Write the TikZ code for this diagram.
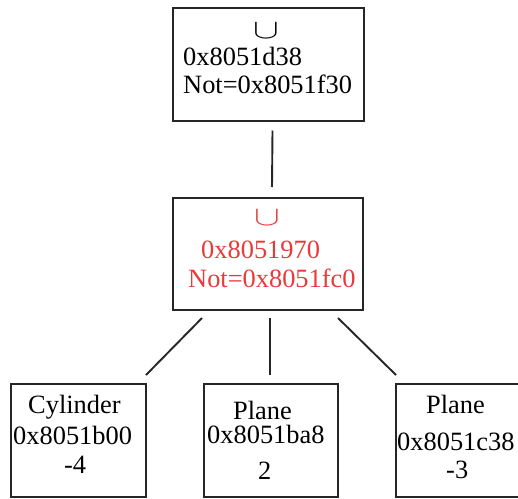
\documentclass[tikz,border=0pt]{standalone}
\usepackage{fontspec}
\setmainfont{Liberation Serif}
\definecolor{nodered}{RGB}{232,58,58}
\newcommand{\bigcupsym}{\scalebox{1.55}[1.1]{$\cup$}}
\begin{document}
\begin{tikzpicture}[x=1pt,y=-1pt,
  box/.style={draw=black!85,line width=2pt,rectangle,inner sep=0pt,anchor=north west},
  lbl/.style={inner sep=0pt,anchor=base west,font=\fontsize{26.4}{30}\selectfont},
  cupsym/.style={inner sep=0pt,anchor=south,font=\fontsize{24}{28}\selectfont},
  link/.style={draw=black!85,line width=1.9pt}]
\useasboundingbox (0,0) rectangle (518,498);
% boxes
\node[box,minimum width=191pt,minimum height=113pt] (top) at (172,6.5) {};
\node[box,minimum width=190pt,minimum height=112pt] (mid) at (172,197) {};
\node[box,minimum width=135pt,minimum height=113pt] (lb) at (10,383) {};
\node[box,minimum width=134pt,minimum height=113pt] (cb) at (203,383) {};
\node[box,minimum width=140pt,minimum height=113pt] (rb) at (395,383) {};
% texts top
\node[cupsym] (tcup) at (266,39) {\bigcupsym};
\node[lbl] (t1) at (183,65) {0x8051d38};
\node[lbl] (t2) at (183,93) {Not=0x8051f30};
% texts mid
\node[cupsym,text=nodered] (mcup) at (267,226) {\bigcupsym};
\node[lbl,text=nodered] (m1) at (201,258) {0x8051970};
\node[lbl,text=nodered] (m2) at (188,287) {Not=0x8051fc0};
% bottom left
\node[lbl] (l1) at (28,413) {Cylinder};
\node[lbl] (l2) at (13,444) {0x8051b00};
\node[lbl] (l3) at (64,473) {-4};
% bottom centre
\node[lbl] (c1) at (233,419) {Plane};
\node[lbl] (c2) at (207,443) {0x8051ba8};
\node[lbl] (c3) at (258,479) {2};
% bottom right
\node[lbl] (r1) at (426,413) {Plane};
\node[lbl] (r2) at (397,450) {0x8051c38};
\node[lbl] (r3) at (446,478) {-3};
% connectors
\draw[link] ([xshift=4pt,yshift=-9pt]top.south) -- ([xshift=4pt,yshift=10pt]mid.north);
\draw[link] ([xshift=30pt,yshift=-7pt]mid.south west) -- ([xshift=-1pt,yshift=8pt]lb.north east);
\draw[link] ([xshift=2pt,yshift=-7pt]mid.south) -- ([xshift=-1pt,yshift=8pt]cb.north);
\draw[link] ([xshift=-26pt,yshift=-7pt]mid.south east) -- ([xshift=1pt,yshift=8pt]rb.north west);
\end{tikzpicture}
\end{document}
